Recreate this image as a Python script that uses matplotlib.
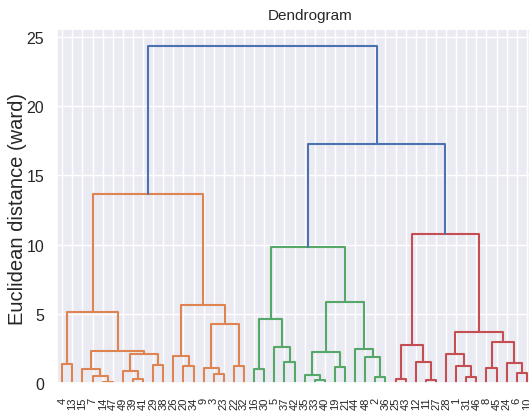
import matplotlib
matplotlib.use("Agg")
import matplotlib.pyplot as plt
import seaborn as sns

sns.set_theme(style="darkgrid")
plt.rcParams['font.family'] = ['Liberation Sans', 'DejaVu Sans']

# Linkage: [left, right, height]; ints are leaf labels, 'mK' refers to K-th merge
Z = [
    [14, 47, 0.07], [7, 'm0', 0.55], [15, 'm1', 1.03], [4, 13, 1.37],
    [39, 41, 0.31], [49, 'm4', 0.87], [29, 38, 1.34], ['m5', 'm6', 2.11],
    ['m2', 'm7', 2.35], ['m3', 'm8', 5.17], [20, 34, 1.23], [26, 'm10', 1.99],
    [3, 23, 0.67], [9, 'm12', 1.10], [22, 32, 1.23], ['m13', 'm14', 4.28],
    ['m11', 'm15', 5.65], ['m9', 'm16', 13.66],
    [16, 30, 1.01], [37, 42, 1.51], [5, 'm19', 2.60], ['m18', 'm20', 4.64],
    [33, 40, 0.24], [35, 'm22', 0.60], [19, 21, 1.15], ['m23', 'm24', 2.24],
    [2, 36, 0.45], [48, 'm26', 1.88], [44, 'm27', 2.50], ['m25', 'm28', 5.84],
    ['m21', 'm29', 9.81],
    [25, 43, 0.31], [11, 27, 0.24], [12, 'm32', 1.52], ['m31', 'm33', 2.76],
    [31, 46, 0.43], [1, 'm35', 1.23], [28, 'm36', 2.11], [8, 45, 1.08],
    [6, 10, 0.72], [24, 'm39', 1.46], ['m38', 'm40', 3.00], ['m37', 'm41', 3.68],
    ['m34', 'm42', 10.77],
    ['m30', 'm43', 17.27], ['m17', 'm44', 24.35],
]
cluster_colors = ['C1', 'C2', 'C3']
above_color = 'C0'
title = "Dendrogram"
ylabel = "Euclidean distance (ward)"
yticks = [0, 5, 10, 15, 20, 25]

W, H = 529, 414
fig = plt.figure(figsize=(W / 100, H / 100), dpi=100)
ax = fig.add_axes([57.2 / W, 1 - 384.3 / H, 474.7 / W, (384.3 - 29.7) / H])

nodes = {}
for k, (a, b, h) in enumerate(Z):
    nodes['m%d' % k] = (a, b, h)

root = 'm%d' % (len(Z) - 1)
max_h = Z[-1][2]
threshold = 0.7 * max_h

order = []
def collect(n):
    if isinstance(n, str):
        a, b, h = nodes[n]
        collect(a); collect(b)
    else:
        order.append(n)
collect(root)
leaf_x = {lab: 5 + 10 * i for i, lab in enumerate(order)}

color_of = {}
ci = [0]
def assign(n, col):
    if not isinstance(n, str):
        return
    a, b, h = nodes[n]
    if col is None and h < threshold:
        col = cluster_colors[ci[0] % len(cluster_colors)]
        ci[0] += 1
    color_of[n] = col if col is not None else above_color
    assign(a, col); assign(b, col)
assign(root, None)

def draw(n):
    if not isinstance(n, str):
        return leaf_x[n], 0.0
    a, b, h = nodes[n]
    xa, ya = draw(a)
    xb, yb = draw(b)
    ax.plot([xa, xa, xb, xb], [ya, h, h, yb], color=color_of[n], lw=1.5)
    return (xa + xb) / 2, h
draw(root)

ax.set_xlim(0, 10 * len(order))
ax.set_ylim(0, max_h * 1.05)
ax.set_xticks([5 + 10 * i for i in range(len(order))])
ax.set_xticklabels([str(l) for l in order], rotation=90, fontsize=8)
ax.set_yticks(yticks)
ax.tick_params(axis='y', labelsize=11.5)
fig.text(18 / W, 1 - 209 / H, ylabel, rotation=90, ha='center', va='center',
         fontsize=14.5, color='0.15')
fig.text(310 / W, 1 - 16 / H, title, ha='center', va='center', fontsize=11,
         color='0.15')

fig.savefig("out.png", dpi=100)
